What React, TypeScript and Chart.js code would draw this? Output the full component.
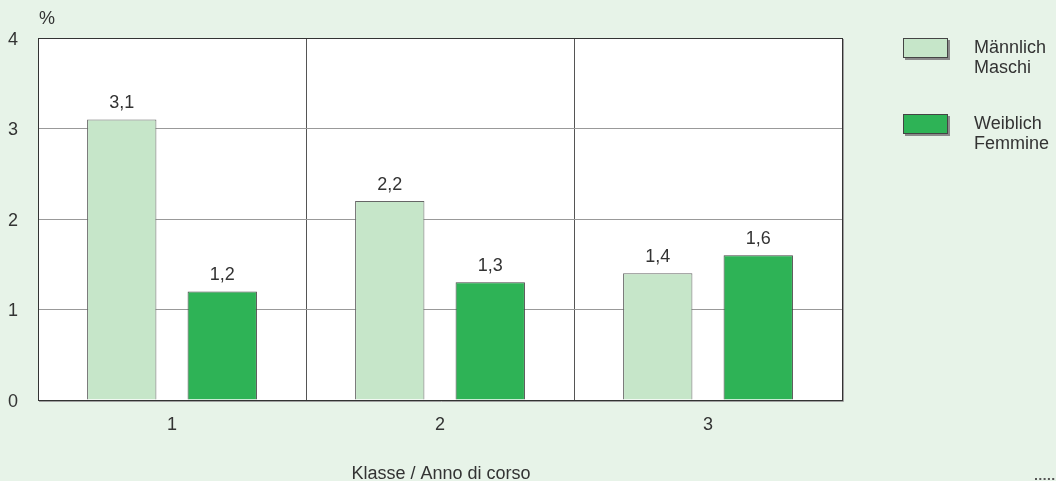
import React, { useEffect, useRef } from "react";
import { Chart, registerables } from "chart.js";

Chart.register(...registerables);

const categories = ["1", "2", "3"];
const maleValues = [3.1, 2.2, 1.4];
const femaleValues = [1.2, 1.3, 1.6];
const maleLabel = ["Männlich", "Maschi"];
const femaleLabel = ["Weiblich", "Femmine"];
const yTicks = [0, 1, 2, 3, 4];
const axisTitle = "Klasse / Anno di corso";
const unitLabel = "%";

const BG = "#e7f3e8";
const LIGHT = "#c6e6c9";
const DARK = "#2eb356";
const FONT = "'Liberation Sans', Arial, sans-serif";
const TEXT = "#333333";

export default function App() {
  const ref = useRef<HTMLCanvasElement | null>(null);

  useEffect(() => {
    const canvas = ref.current;
    if (!canvas) return;

    const overlay = {
      id: "overlay",
      beforeDraw(chart: any) {
        const { ctx, chartArea } = chart;
        ctx.save();
        ctx.fillStyle = "#ffffff";
        ctx.fillRect(chartArea.left, chartArea.top, chartArea.right - chartArea.left, chartArea.bottom - chartArea.top);
        ctx.restore();
      },
      afterDatasetsDraw(chart: any) {
        const { ctx, chartArea } = chart;
        ctx.save();
        // frame shadow
        ctx.strokeStyle = "#a0a0a0";
        ctx.lineWidth = 1;
        ctx.beginPath();
        ctx.moveTo(Math.round(chartArea.right) + 1.5, Math.round(chartArea.top) + 1);
        ctx.lineTo(Math.round(chartArea.right) + 1.5, Math.round(chartArea.bottom) + 1.5);
        ctx.lineTo(Math.round(chartArea.left) + 1, Math.round(chartArea.bottom) + 1.5);
        ctx.stroke();
        // frame
        ctx.strokeStyle = "#333333";
        ctx.lineWidth = 1;
        ctx.strokeRect(
          Math.round(chartArea.left) + 0.5,
          Math.round(chartArea.top) + 0.5,
          Math.round(chartArea.right) - Math.round(chartArea.left),
          Math.round(chartArea.bottom) - Math.round(chartArea.top)
        );

        ctx.font = `18px ${FONT}`;
        ctx.fillStyle = TEXT;

        // y tick labels
        const yScale = chart.scales.y;
        ctx.textAlign = "right";
        ctx.textBaseline = "middle";
        yTicks.forEach((t) => {
          ctx.fillText(String(t), 18, yScale.getPixelForValue(t) + 2);
        });

        // value labels
        ctx.textAlign = "center";
        ctx.textBaseline = "alphabetic";
        chart.data.datasets.forEach((ds: any, di: number) => {
          const meta = chart.getDatasetMeta(di);
          meta.data.forEach((bar: any, i: number) => {
            const v = ds.data[i];
            const txt = v.toFixed(1).replace(".", ",");
            ctx.fillText(txt, bar.x, bar.y - 11);
          });
        });

        // unit label
        ctx.textAlign = "left";
        ctx.fillText(unitLabel, 39, 24);

        // axis title
        ctx.textAlign = "center";
        ctx.fillText(axisTitle, 441, 479);

        // legend
        const items = [
          { color: LIGHT, lines: maleLabel, y: 38 },
          { color: DARK, lines: femaleLabel, y: 114 },
        ];
        items.forEach((it) => {
          ctx.fillStyle = "#8a8a8a";
          ctx.fillRect(905, it.y + 2, 45, 20);
          ctx.fillStyle = it.color;
          ctx.fillRect(903, it.y, 45, 20);
          ctx.strokeStyle = "#444444";
          ctx.lineWidth = 1;
          ctx.strokeRect(903.5, it.y + 0.5, 44, 19);
          ctx.fillStyle = TEXT;
          ctx.textAlign = "left";
          it.lines.forEach((ln: string, k: number) => {
            ctx.fillText(ln, 974, it.y + 15 + k * 20);
          });
        });

        // dots
        ctx.fillStyle = "#555555";
        for (let k = 0; k < 5; k++) {
          ctx.fillRect(1035 + k * 4.3, 478, 2, 2);
        }
        ctx.restore();
      },
    };

    const chart = new Chart(canvas, {
      type: "bar",
      data: {
        labels: categories,
        datasets: [
          {
            label: maleLabel.join(" "),
            data: maleValues,
            backgroundColor: LIGHT,
            borderColor: "#666666",
            borderWidth: 1,
            categoryPercentage: 0.75,
            barPercentage: 0.69,
          },
          {
            label: femaleLabel.join(" "),
            data: femaleValues,
            backgroundColor: DARK,
            borderColor: "#444444",
            borderWidth: 1,
            categoryPercentage: 0.75,
            barPercentage: 0.69,
          },
        ],
      },
      options: {
        animation: false,
        responsive: false,
        maintainAspectRatio: false,
        layout: { padding: { top: 38, right: 214, left: 0, bottom: 0 } },
        plugins: {
          legend: { display: false },
          tooltip: { enabled: false },
          title: { display: false },
        },
        scales: {
          x: {
            grid: { offset: true, color: "#555555", drawTicks: false },
            border: { display: false },
            ticks: { color: TEXT, font: { family: FONT, size: 18 }, padding: 14 },
            afterFit(scale: any) {
              scale.height = 81;
            },
          },
          y: {
            min: yTicks[0],
            max: yTicks[yTicks.length - 1],
            grid: { color: "#999999", drawTicks: false },
            border: { display: false },
            ticks: {
              stepSize: 1,
              display: false,
            },
            afterFit(scale: any) {
              scale.width = 38;
            },
          },
        },
      },
      plugins: [overlay],
    });

    return () => chart.destroy();
  }, []);

  return (
    <div style={{ position: "fixed", left: 0, top: 0, width: 1056, height: 481, background: BG }}>
      <canvas ref={ref} width={1056} height={481} style={{ display: "block", width: 1056, height: 481 }} />
    </div>
  );
}
